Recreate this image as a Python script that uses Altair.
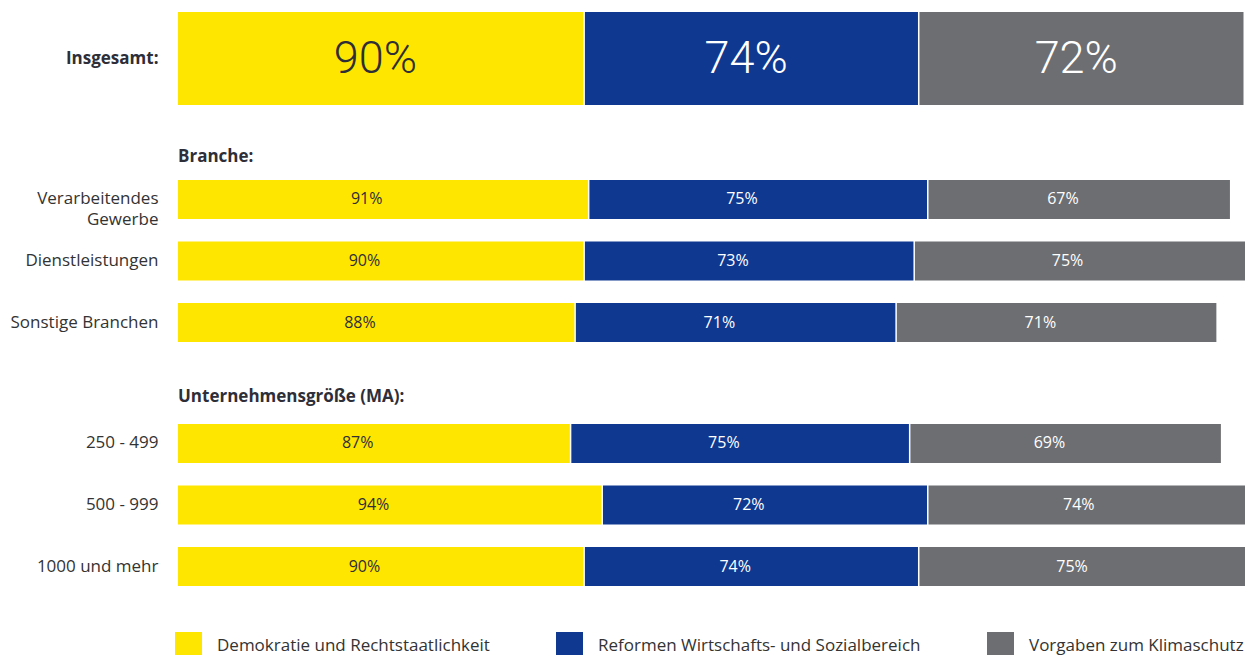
import altair as alt
import pandas as pd

series = ["Demokratie und Rechtstaatlichkeit",
          "Reformen Wirtschafts- und Sozialbereich",
          "Vorgaben zum Klimaschutz"]
colors = ["#FFE600", "#0F3891", "#6D6E71"]

total_cats = ["Insgesamt:"]
total_demokratie = [90]
total_reformen = [74]
total_klima = [72]

branche_cats = ["Verarbeitendes\nGewerbe", "Dienstleistungen", "Sonstige Branchen"]
branche_demokratie = [91, 90, 88]
branche_reformen = [75, 73, 71]
branche_klima = [67, 75, 71]

groesse_cats = ["250 - 499", "500 - 999", "1000 und mehr"]
groesse_demokratie = [87, 94, 90]
groesse_reformen = [75, 72, 74]
groesse_klima = [69, 74, 75]

FONT = "Open Sans"
BIGFONT = "Roboto"
XMAX = 236.0
PLOT_W = 1067


def make_df(cats, a, b, c):
    rows = []
    for i, cat in enumerate(cats):
        for k, vals in enumerate([a, b, c]):
            rows.append({"cat": cat, "series": series[k], "order": k,
                         "value": vals[i], "label": f"{vals[i]}%"})
    return pd.DataFrame(rows)


color_scale = alt.Scale(domain=series, range=colors)
x_scale = alt.Scale(domain=[0, XMAX], nice=False, zero=True)


def panel(df, cats, height, pad_inner, text_font, text_size, text_weight, bold_axis,
          title=None, title_offset=15, dx=0, legend=None):
    base = alt.Chart(df).transform_stack(
        stack="value", groupby=["cat"], as_=["x0", "x1"],
        sort=[alt.SortField("order", order="ascending")]
    ).transform_calculate(mid="(datum.x0 + datum.x1) / 2")

    y = alt.Y("cat:N", sort=cats, title=None,
              scale=alt.Scale(paddingInner=pad_inner, paddingOuter=0),
              axis=alt.Axis(domain=False, ticks=False, labelPadding=20,
                            minExtent=170, maxExtent=170, labelLimit=200,
                            labelFont=FONT, labelFontSize=17,
                            labelFontWeight="bold" if bold_axis else "normal",
                            labelColor="#2E2E38" if bold_axis else "#333333",
                            labelLineHeight=21,
                            labelExpr="split(datum.label, '\\n')"))

    bars = base.mark_bar(x2Offset=-1.5, clip=True).encode(
        x=alt.X("x0:Q", scale=x_scale, axis=None),
        x2="x1:Q",
        y=y,
        color=alt.Color("series:N", scale=color_scale, sort=series,
                        legend=legend),
        order=alt.Order("order:Q"),
    )
    text = base.mark_text(font=text_font, fontSize=text_size, fontWeight=text_weight,
                          dx=dx).encode(
        x=alt.X("mid:Q", scale=x_scale, axis=None),
        y=alt.Y("cat:N", sort=cats),
        text="label:N",
        color=alt.condition("datum.order == 0", alt.value("#2E2E38"), alt.value("white")),
    )
    props = dict(width=PLOT_W, height=height)
    if title:
        props["title"] = alt.TitleParams(title, anchor="start", frame="group",
                                         font=FONT, fontSize=17, fontWeight="bold",
                                         color="#2E2E38", offset=title_offset)
    return alt.layer(bars, text).properties(**props)


legend = alt.Legend(title=None, orient="none", legendX=-3, legendY=620,
                    direction="horizontal", symbolType="square",
                    symbolSize=729, symbolStrokeWidth=0, symbolOpacity=1,
                    labelFont=FONT, labelFontSize=17, labelColor="#333333",
                    labelOffset=15, columnPadding=66, labelLimit=360)

p1 = panel(make_df(total_cats, total_demokratie, total_reformen, total_klima),
           total_cats, 93, 0, BIGFONT, 45, 300, True, dx=-6, legend=legend)
p2 = panel(make_df(branche_cats, branche_demokratie, branche_reformen, branche_klima),
           branche_cats, 162, 0.366, FONT, 16, "normal", False,
           title="Branche:", title_offset=14, dx=-17)
p3 = panel(make_df(groesse_cats, groesse_demokratie, groesse_reformen, groesse_klima),
           groesse_cats, 162, 0.366, FONT, 16, "normal", False,
           title="Unternehmensgröße (MA):", title_offset=18, dx=-17)

chart = alt.vconcat(alt.vconcat(p1, p2, spacing=43), p3, spacing=46).properties(
    padding={"left": 0, "top": 4, "right": 0, "bottom": 0}
).configure_view(stroke=None).resolve_scale(color="shared")

chart.save("out.html", embed_options={"renderer": "svg", "actions": False})
